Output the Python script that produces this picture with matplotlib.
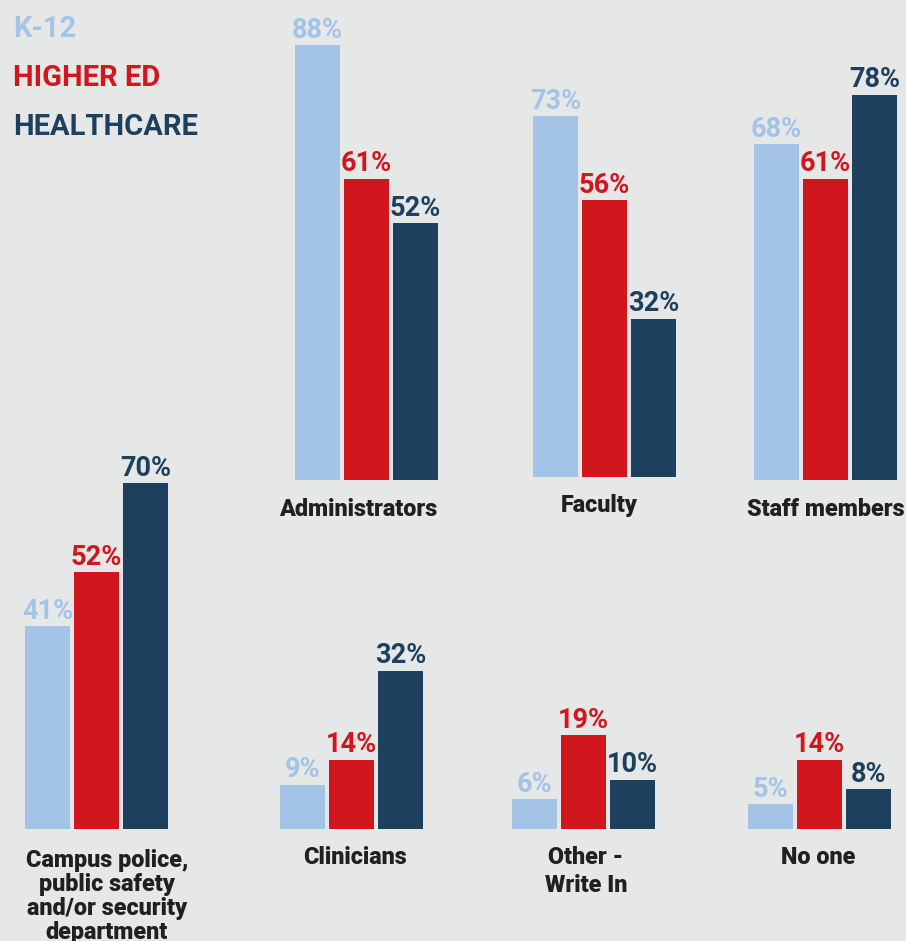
import matplotlib.pyplot as plt

# survey answers, percent of respondents
categories = ["Administrators", "Faculty", "Staff members",
              "Campus police,\npublic safety\nand/or security\ndepartment",
              "Clinicians", "Other -\nWrite In", "No one"]
k12 = [88, 73, 68, 41, 9, 6, 5]
higher_ed = [61, 56, 61, 52, 14, 19, 14]
healthcare = [52, 32, 78, 70, 32, 10, 8]
series_names = ["K-12", "HIGHER ED", "HEALTHCARE"]

colors = ["#a3c4e7", "#d2161e", "#1c405e"]
bg = "#e6e7e7"
text_dark = "#231f20"
font = "Roboto"

W, H = 906, 941
px_per_pct = 4.94

# layout per group: left edge of first bar, baseline, label centre x, first label baseline, line step
layout = [
    (295, 480, 358, 516, 0),
    (533, 477, 599, 512, 0),
    (754, 480, 826, 516, 0),
    (25, 829, 107, 867, 24),
    (280, 829, 355, 864, 0),
    (512, 829, 586, 864, 28),
    (748, 829, 818, 864, 0),
]

fig = plt.figure(figsize=(W / 100, H / 100), dpi=100, facecolor=bg)

for i, cat in enumerate(categories):
    left, base, lx, ly, step = layout[i]
    ax_h = 460 if base < 600 else 350
    ax = fig.add_axes([(left - 2) / W, (H - base) / H, 147 / W, ax_h / H])
    ax.set_xlim(-0.5, 2.5)
    ax.set_ylim(0, ax_h / px_per_pct)
    ax.axis("off")
    vals = [k12[i], higher_ed[i], healthcare[i]]
    ax.bar([0, 1, 2], vals, width=45 / 49, color=colors)
    for j, v in enumerate(vals):
        ax.annotate(f"{v}%", (j, v), xytext=(0, 5.4), textcoords="offset points",
                    ha="center", va="baseline", fontsize=19.5, fontweight="bold",
                    family=font, color=colors[j], annotation_clip=False)
    for k, line in enumerate(cat.split("\n")):
        fig.text(lx / W, (H - ly - k * step) / H, line, ha="center", va="baseline",
                 fontsize=16.8, fontweight=900, family=font, color=text_dark)

# legend in the top-left corner
for j, name in enumerate(series_names):
    fig.text(13 / W, (H - 37 - j * 49) / H, name, ha="left", va="baseline",
             fontsize=21, fontweight="bold", family=font, color=colors[j])

fig.savefig("out.png", dpi=100, facecolor=bg)
